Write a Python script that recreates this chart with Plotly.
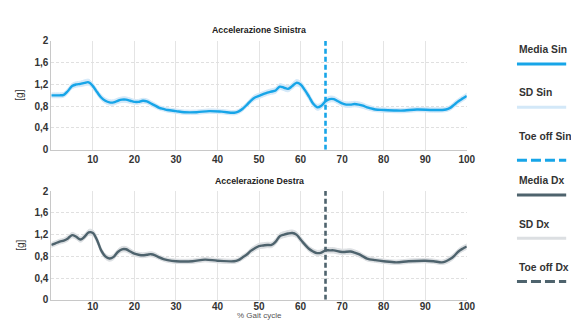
import plotly.graph_objects as go

# ---------------- data ----------------
x_sin = [0,1,2,3,4,5,6,7,8,9,10,11,12,13,14,15,16,17,18,19,20,21,22,23,24,25,26,27,28,30,32,35,38,41,44,45,46,47,48,49,
         50,51,52,53,54,55,56,57,58,59,60,61,62,63,64,65,66,67,68,69,70,71,72,73,74,75,76,77,78,80,83,85,88,92,95,96,97,98,99,100]
media_sin = [1.00,1.00,1.00,1.01,1.08,1.17,1.20,1.21,1.23,1.24,1.17,1.06,0.96,0.90,0.87,0.87,0.90,0.92,0.92,0.90,
             0.88,0.88,0.90,0.89,0.85,0.81,0.77,0.75,0.73,0.71,0.69,0.69,0.71,0.70,0.68,0.70,0.75,0.82,0.90,0.96,
             0.99,1.02,1.05,1.07,1.09,1.16,1.14,1.12,1.17,1.23,1.20,1.10,0.98,0.85,0.78,0.81,0.89,0.93,0.93,0.89,
             0.85,0.83,0.83,0.84,0.83,0.81,0.78,0.76,0.74,0.73,0.72,0.72,0.74,0.73,0.74,0.77,0.83,0.89,0.94,0.99]
sd_sin = [0.045,0.045,0.045,0.045,0.05,0.05,0.05,0.05,0.055,0.055,0.055,0.05,0.05,0.05,0.05,0.05,0.05,0.05,0.05,0.05,
          0.045,0.045,0.045,0.045,0.045,0.045,0.04,0.04,0.04,0.04,0.04,0.04,0.04,0.04,0.04,0.04,0.045,0.045,0.05,0.05,
          0.05,0.05,0.05,0.05,0.055,0.055,0.055,0.055,0.055,0.06,0.06,0.06,0.06,0.055,0.055,0.055,0.055,0.055,0.05,0.05,
          0.05,0.05,0.05,0.05,0.05,0.05,0.045,0.045,0.04,0.04,0.04,0.04,0.04,0.04,0.04,0.045,0.05,0.05,0.05,0.05]

x_dx = [0,1,2,3,4,5,6,7,8,9,10,11,12,13,14,15,16,17,18,19,20,21,22,23,24,25,26,27,28,30,34,37,40,44,45,46,47,48,49,
        50,51,52,53,54,55,56,57,58,59,60,61,62,63,64,65,66,67,68,70,72,73,74,75,76,78,80,83,86,90,92,94,95,96,97,98,99,100]
media_dx = [1.01,1.04,1.07,1.09,1.13,1.19,1.16,1.11,1.16,1.24,1.23,1.10,0.91,0.80,0.76,0.79,0.88,0.93,0.93,0.89,
            0.85,0.83,0.82,0.83,0.84,0.82,0.78,0.75,0.73,0.71,0.71,0.74,0.72,0.71,0.73,0.78,0.83,0.90,0.95,
            0.99,1.00,1.01,1.01,1.07,1.17,1.20,1.22,1.23,1.20,1.11,1.02,0.94,0.89,0.86,0.87,0.91,0.91,0.91,0.88,
            0.89,0.87,0.84,0.80,0.76,0.73,0.71,0.69,0.71,0.72,0.71,0.69,0.71,0.75,0.81,0.89,0.94,0.98]
sd_dx = [0.045,0.045,0.045,0.045,0.05,0.05,0.05,0.05,0.05,0.055,0.055,0.055,0.05,0.05,0.05,0.05,0.05,0.05,0.05,0.05,
         0.045,0.045,0.045,0.045,0.045,0.045,0.04,0.04,0.04,0.04,0.04,0.04,0.04,0.04,0.04,0.045,0.045,0.05,0.05,
         0.05,0.05,0.05,0.05,0.055,0.055,0.055,0.055,0.055,0.055,0.055,0.05,0.05,0.05,0.05,0.05,0.05,0.05,0.05,0.05,
         0.05,0.05,0.05,0.045,0.045,0.04,0.04,0.04,0.04,0.04,0.04,0.04,0.045,0.05,0.05,0.05,0.05,0.05]

toe_off_sin = 66
toe_off_dx = 66

x_ticks = [10, 20, 30, 40, 50, 60, 70, 80, 90, 100]
y_ticks = [0, 0.4, 0.8, 1.2, 1.6, 2]
y_ticktext = ["0", "0,4", "0,8", "1,2", "1,6", "2"]

titles = ["Accelerazione Sinistra", "Accelerazione Destra"]
legend_names = ["Media Sin", "SD Sin", "Toe off Sin", "Media Dx", "SD Dx", "Toe off Dx"]

# ---------------- style ----------------
W, H = 579, 320
BLUE = "#17a5e8"
BLUE_SD = "#d3e8f8"
DARK = "#4e636d"
DARK_SD = "#dcdfe2"
FONT = "Liberation Sans, Arial, sans-serif"

def px(v):
    return v / W

def py(v):
    return 1 - v / H

fig = go.Figure()

def add_panel(x, mean, sd, toe, color, sdcolor, xa, ya):
    upper = [m + s for m, s in zip(mean, sd)]
    lower = [m - s for m, s in zip(mean, sd)]
    fig.add_trace(go.Scatter(x=x, y=upper, mode="lines", line=dict(color=sdcolor, width=1, shape="spline"),
                             xaxis=xa, yaxis=ya, hoverinfo="skip"))
    fig.add_trace(go.Scatter(x=x, y=lower, mode="lines", line=dict(color=sdcolor, width=1, shape="spline"),
                             fill="tonexty", fillcolor=sdcolor, xaxis=xa, yaxis=ya, hoverinfo="skip"))
    fig.add_trace(go.Scatter(x=x, y=mean, mode="lines", line=dict(color=color, width=2.4, shape="spline"),
                             xaxis=xa, yaxis=ya))
    fig.add_trace(go.Scatter(x=[toe, toe], y=[y_ticks[0], y_ticks[-1]], mode="lines",
                             line=dict(color=color, width=2.6, dash="5px,3px"), xaxis=xa, yaxis=ya))

add_panel(x_sin, media_sin, sd_sin, toe_off_sin, BLUE, BLUE_SD, "x", "y")
add_panel(x_dx, media_dx, sd_dx, toe_off_dx, DARK, DARK_SD, "x2", "y2")

xdom = [px(44), px(466)]
common_x = dict(range=[0, 100], tickvals=x_ticks, showgrid=True, gridcolor="#e4e4e4", gridwidth=1,
                showline=True, linecolor="#c8c8c8", linewidth=1, zeroline=False, ticks="",
                tickfont=dict(family=FONT, size=10, color="#333333", weight="bold"), domain=xdom)
common_y = dict(range=[0, 2], tickvals=y_ticks, ticktext=y_ticktext, showgrid=True, gridcolor="#e0e0e0",
                griddash="3px,2px", gridwidth=1, showline=True, linecolor="#c8c8c8", linewidth=1, zeroline=False,
                ticks="", tickfont=dict(family=FONT, size=10, color="#333333", weight="bold"))

fig.update_layout(
    width=W, height=H, margin=dict(l=0, r=0, t=0, b=0),
    paper_bgcolor="white", plot_bgcolor="white", showlegend=False,
    xaxis=dict(common_x, anchor="y"),
    yaxis=dict(common_y, anchor="x", domain=[py(141), py(28)]),
    xaxis2=dict(common_x, anchor="y2", ticklabelstandoff=-3),
    yaxis2=dict(common_y, anchor="x2", domain=[py(297), py(184)]),
)

ann = []
# panel titles
for t, yy in zip(titles, [17, 174]):
    ann.append(dict(text=t, x=px(255), y=py(yy), xref="paper", yref="paper", showarrow=False,
                    xanchor="center", yanchor="middle", font=dict(family=FONT, size=8.8, color="#222", weight="bold")))
# y titles
for yy in [84, 240]:
    ann.append(dict(text="[g]", x=px(12), y=py(yy), xref="paper", yref="paper", showarrow=False,
                    textangle=-90, xanchor="center", yanchor="middle", font=dict(family=FONT, size=10, color="#333")))
# x title
ann.append(dict(text="% Gait cycle", x=px(255), y=0, xref="paper", yref="paper", showarrow=False,
                xanchor="center", yanchor="bottom", font=dict(family=FONT, size=8, color="#555")))

# custom legend
leg_text_y = [37, 82, 127, 173, 219, 263]
leg_line_y = [52, 97, 152, 188, 233, 278]
leg_colors = [BLUE, BLUE_SD, BLUE, DARK, DARK_SD, DARK]
leg_dash = ["solid", "solid", "10px,4px", "solid", "solid", "10px,4px"]
shapes = []
for name, ty, ly, c, d in zip(legend_names, leg_text_y, leg_line_y, leg_colors, leg_dash):
    ann.append(dict(text=name, x=px(517), y=py(ty), xref="paper", yref="paper", showarrow=False,
                    xanchor="left", yanchor="middle", font=dict(family=FONT, size=10.3, color="#333", weight="bold")))
    shapes.append(dict(type="line", xref="paper", yref="paper", x0=px(517), x1=px(567), y0=py(ly), y1=py(ly),
                       line=dict(color=c, width=3, dash=d)))

fig.update_layout(annotations=ann, shapes=shapes)
fig.write_html("out.html")
